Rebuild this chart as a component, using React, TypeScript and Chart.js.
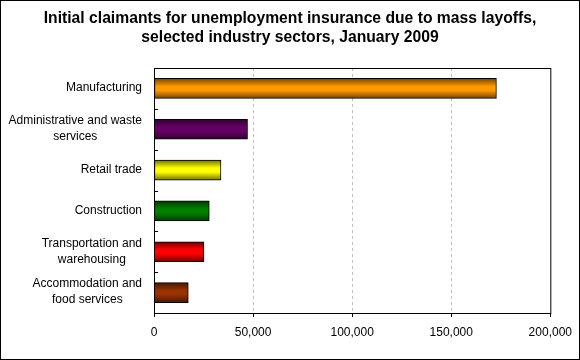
import { useEffect, useRef } from "react";
import { Chart, registerables } from "chart.js";

Chart.register(...registerables);

const titleLines = [
  "Initial claimants for unemployment insurance due to mass layoffs,",
  "selected industry sectors, January 2009",
];

const categories: string[][] = [
  ["Manufacturing"],
  ["Administrative and waste", "services"],
  ["Retail trade"],
  ["Construction"],
  ["Transportation and", "warehousing"],
  ["Accommodation and", "food services"],
];

const values = [172800, 47200, 33800, 27900, 25200, 17300];

const barColors = ["#FF9900", "#660066", "#FFFF00", "#008000", "#FF0000", "#993300"];

const xMin = 0;
const xMax = 200000;
const xStep = 50000;

const FONT = "'Liberation Sans', Arial, Helvetica, sans-serif";

function shade(hex: string, f: number): string {
  const n = parseInt(hex.slice(1), 16);
  const r = Math.round(((n >> 16) & 255) * f);
  const g = Math.round(((n >> 8) & 255) * f);
  const b = Math.round((n & 255) * f);
  return `rgb(${r},${g},${b})`;
}

export default function App() {
  const ref = useRef<HTMLCanvasElement>(null);

  useEffect(() => {
    document.body.style.margin = "0";
    const canvas = ref.current!;

    const decor = {
      id: "decor",
      beforeDraw(chart: any) {
        const ctx = chart.ctx;
        ctx.save();
        ctx.fillStyle = "#ffffff";
        ctx.fillRect(0, 0, chart.width, chart.height);
        ctx.restore();
      },
      afterDraw(chart: any) {
        const ctx = chart.ctx;
        const area = chart.chartArea;
        const ys = chart.scales.y;
        ctx.save();
        ctx.fillStyle = "#000";
        ctx.font = `bold 15.7px ${FONT}`;
        ctx.textAlign = "center";
        ctx.textBaseline = "alphabetic";
        titleLines.forEach((t, i) => ctx.fillText(t, chart.width / 2, 23 + i * 19));

        ctx.strokeStyle = "#000";
        ctx.lineWidth = 1;
        ctx.setLineDash([]);
        ctx.strokeRect(area.left + 0.5, area.top + 0.5, area.right - area.left, area.bottom - area.top);

        ctx.beginPath();
        for (let i = 1; i < categories.length; i++) {
          const yb = Math.round((ys.getPixelForValue(i - 1) + ys.getPixelForValue(i)) / 2) + 0.5;
          ctx.moveTo(area.left, yb);
          ctx.lineTo(area.left + 4, yb);
        }
        ctx.stroke();

        ctx.font = `12px ${FONT}`;
        ctx.textAlign = "center";
        ctx.textBaseline = "middle";
        categories.forEach((lines, i) => {
          const cy = ys.getPixelForValue(i);
          const w = Math.max(...lines.map((l) => ctx.measureText(l).width));
          const cx = 142 - w / 2;
          lines.forEach((l, j) => {
            ctx.fillText(l, cx, cy - 0.5 + (j - (lines.length - 1) / 2) * 16);
          });
        });

        ctx.strokeRect(0.5, 0.5, chart.width - 1, chart.height - 1);
        ctx.restore();
      },
    };

    const chart = new Chart(canvas, {
      type: "bar",
      data: {
        labels: categories.map((c) => c.join(" ")),
        datasets: [
          {
            data: values,
            backgroundColor: (c: any) => {
              const i = c.dataIndex;
              const base = barColors[i] ?? barColors[0];
              const ys = c.chart.scales?.y;
              if (!ys || i === undefined) return base;
              const cy = ys.getPixelForValue(i);
              if (!Number.isFinite(cy)) return base;
              const g = c.chart.ctx.createLinearGradient(0, cy - 10, 0, cy + 10);
              g.addColorStop(0, shade(base, 0.45));
              g.addColorStop(0.4, base);
              g.addColorStop(0.6, base);
              g.addColorStop(1, shade(base, 0.45));
              return g;
            },
            borderColor: "#000",
            borderWidth: 1,
            borderSkipped: false,
            barThickness: 20,
          } as any,
        ],
      },
      options: {
        indexAxis: "y",
        animation: false,
        responsive: false,
        layout: { padding: { top: 68, right: 29, left: 0, bottom: 0 } },
        plugins: {
          legend: { display: false },
          title: { display: false },
          tooltip: { enabled: false },
        },
        scales: {
          x: {
            min: xMin,
            max: xMax,
            ticks: {
              stepSize: xStep,
              callback: (v: any) => Number(v).toLocaleString("en-US"),
              font: { family: FONT, size: 12 },
              color: "#000",
              padding: 8,
              maxRotation: 0,
            },
            grid: {
              color: (c: any) =>
                c.tick && (c.tick.value === xMin || c.tick.value === xMax) ? "rgba(0,0,0,0)" : "#C0C0C0",
              tickColor: "#000",
              tickLength: 4,
              lineWidth: 1,
            },
            border: { display: false, dash: [3, 3] },
            afterFit: (s: any) => {
              s.height = 47;
            },
          },
          y: {
            ticks: { display: false },
            grid: { display: false },
            border: { display: false },
            afterFit: (s: any) => {
              s.width = 154;
            },
          },
        },
      } as any,
      plugins: [decor],
    });
    return () => chart.destroy();
  }, []);

  return <canvas ref={ref} width={580} height={360} style={{ display: "block" }} />;
}
